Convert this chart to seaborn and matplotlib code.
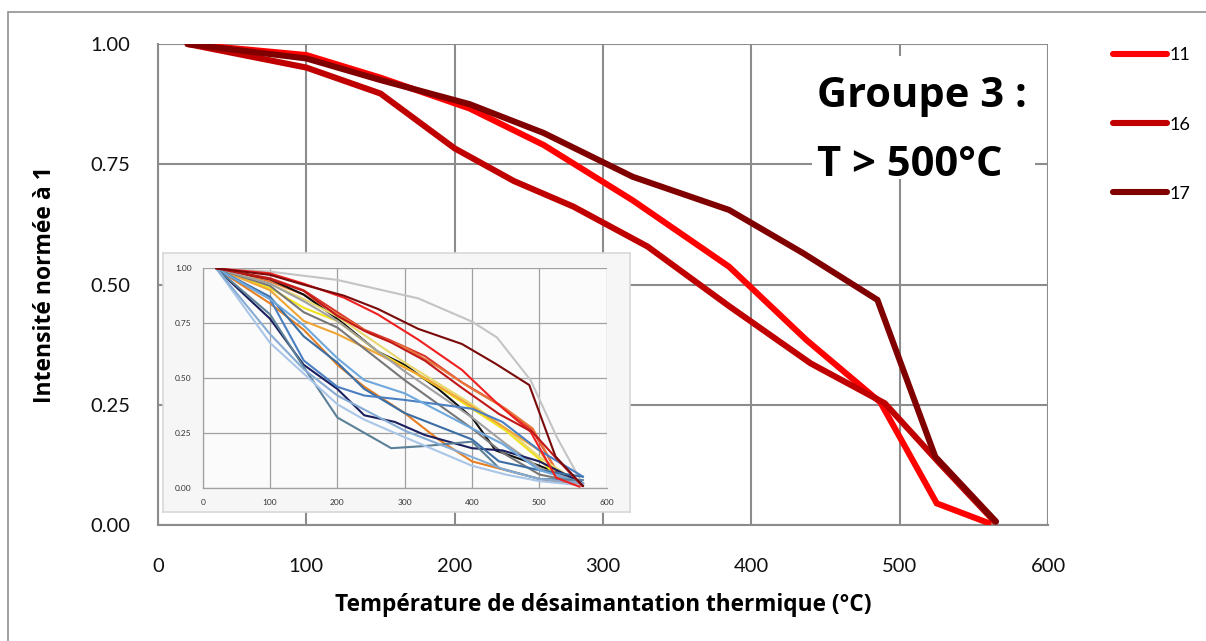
import numpy as np
import pandas as pd
import matplotlib
matplotlib.use("Agg")
import matplotlib.pyplot as plt
import seaborn as sns
from matplotlib.lines import Line2D
from matplotlib.patches import Rectangle

# ---------------- data ----------------
series_names = ["11", "16", "17"]
series_colors = ["#ff0000", "#c00000", "#800000"]

t_11 = [20, 100, 150, 210, 260, 320, 385, 437, 487, 525, 560]
v_11 = [1.0, 0.977, 0.93, 0.866, 0.79, 0.675, 0.537, 0.385, 0.255, 0.045, 0.004]
t_16 = [20, 100, 150, 200, 240, 280, 330, 385, 440, 490, 527, 564]
v_16 = [1.0, 0.951, 0.897, 0.783, 0.715, 0.662, 0.579, 0.455, 0.336, 0.253, 0.128, 0.007]
t_17 = [20, 100, 150, 210, 260, 320, 385, 435, 485, 524, 565]
v_17 = [1.0, 0.970, 0.925, 0.875, 0.815, 0.724, 0.655, 0.565, 0.468, 0.142, 0.007]

x_ticks = [0, 100, 200, 300, 400, 500, 600]
y_ticks = [0.0, 0.25, 0.50, 0.75, 1.00]

# inset (all groups)
inset_names = ["gris", "rouge_b", "orange_r", "noir", "jaune", "jaune_c", "orange_a",
               "orange_b", "gris_f", "gris_m", "marine", "acier", "bleu_p", "bleu_c",
               "ardoise", "bleu_pale", "bleu_m", "11", "16", "17"]
inset_colors = ["#c4c4c4", "#d8362a", "#e8763a", "#111111", "#f2e31a", "#e8d870", "#f0a535",
                "#e67e22", "#777777", "#a0a0a0", "#1b1f5e", "#3b6ea5", "#4a7fc1", "#6fa8dc",
                "#5b8098", "#a9c6e8", "#86acd4", "#ee2020", "#c01818", "#7a0a0a"]
inset_t = [
    [20, 100, 200, 320, 400, 437, 487, 526, 565],
    [20, 100, 150, 200, 240, 280, 330, 385, 440, 490, 525, 565],
    [20, 100, 150, 200, 250, 300, 350, 400, 450, 490, 530, 565],
    [20, 100, 150, 200, 260, 300, 350, 400, 435, 500, 565],
    [20, 100, 150, 200, 260, 300, 350, 400, 450, 500, 530, 565],
    [20, 100, 150, 200, 300, 400, 450, 500, 565],
    [20, 100, 150, 200, 260, 330, 400, 445, 500, 530, 565],
    [20, 100, 150, 200, 240, 300, 350, 400, 450, 500, 565],
    [20, 100, 150, 200, 300, 400, 445, 500, 565],
    [20, 100, 150, 200, 300, 400, 450, 500, 565],
    [20, 100, 150, 200, 240, 285, 330, 400, 445, 500, 565],
    [20, 100, 150, 200, 240, 300, 400, 440, 500, 565],
    [20, 100, 150, 200, 240, 300, 400, 445, 500, 565],
    [20, 100, 150, 200, 240, 300, 400, 445, 500, 565],
    [20, 100, 150, 200, 240, 280, 330, 400, 440, 500, 565],
    [20, 100, 150, 200, 240, 300, 400, 450, 500, 565],
    [20, 100, 150, 200, 300, 400, 450, 500, 565],
    t_11, t_16, t_17,
]
inset_v = [
    [1.0, 0.985, 0.947, 0.863, 0.757, 0.685, 0.49, 0.23, 0.012],
    [1.0, 0.955, 0.90, 0.80, 0.72, 0.67, 0.60, 0.48, 0.38, 0.26, 0.08, 0.01],
    [1.0, 0.94, 0.88, 0.79, 0.70, 0.64, 0.55, 0.45, 0.36, 0.27, 0.05, 0.01],
    [1.0, 0.95, 0.88, 0.77, 0.62, 0.56, 0.45, 0.32, 0.17, 0.10, 0.02],
    [1.0, 0.91, 0.82, 0.76, 0.62, 0.55, 0.46, 0.36, 0.26, 0.13, 0.04, 0.01],
    [1.0, 0.93, 0.86, 0.78, 0.57, 0.38, 0.27, 0.14, 0.01],
    [1.0, 0.90, 0.76, 0.70, 0.61, 0.50, 0.37, 0.28, 0.17, 0.04, 0.01],
    [1.0, 0.84, 0.72, 0.56, 0.46, 0.34, 0.22, 0.12, 0.08, 0.04, 0.01],
    [1.0, 0.92, 0.80, 0.73, 0.49, 0.27, 0.16, 0.06, 0.02],
    [1.0, 0.93, 0.85, 0.76, 0.53, 0.32, 0.20, 0.09, 0.02],
    [1.0, 0.77, 0.56, 0.45, 0.33, 0.30, 0.24, 0.18, 0.17, 0.12, 0.02],
    [1.0, 0.87, 0.69, 0.57, 0.45, 0.34, 0.22, 0.12, 0.08, 0.05],
    [1.0, 0.86, 0.58, 0.46, 0.42, 0.40, 0.36, 0.30, 0.17, 0.05],
    [1.0, 0.86, 0.74, 0.59, 0.49, 0.43, 0.27, 0.20, 0.08, 0.02],
    [1.0, 0.79, 0.55, 0.32, 0.25, 0.18, 0.19, 0.21, 0.09, 0.04, 0.035],
    [1.0, 0.66, 0.52, 0.38, 0.31, 0.23, 0.10, 0.06, 0.03, 0.01],
    [1.0, 0.70, 0.54, 0.42, 0.26, 0.14, 0.08, 0.04, 0.02],
    v_11, v_16, v_17,
]

# ---------------- build frames ----------------
main_df = pd.concat([
    pd.DataFrame({"T": t, "I": v, "ech": n})
    for n, t, v in zip(series_names, [t_11, t_16, t_17], [v_11, v_16, v_17])
], ignore_index=True)
inset_df = pd.concat([
    pd.DataFrame({"T": t, "I": v, "ech": n})
    for n, t, v in zip(inset_names, inset_t, inset_v)
], ignore_index=True)

sns.set_style("white")
plt.rcParams["font.family"] = ["Lato", "DejaVu Sans"]
plt.rcParams["text.color"] = "black"
plt.rcParams["axes.labelcolor"] = "black"
bold_font = ["Open Sans", "DejaVu Sans"]

W, H = 1206, 641
fig = plt.figure(figsize=(W / 100, H / 100), dpi=100)

def fx(px):
    return px / W

def fy(py):
    return 1 - py / H

gridc = "#8c8c8c"

# ---------------- main axes ----------------
ax = fig.add_axes([fx(158), fy(525), fx(1048) - fx(158), fy(44) - fy(525)])
sns.lineplot(data=main_df, x="T", y="I", hue="ech", palette=dict(zip(series_names, series_colors)),
             sort=False, estimator=None, legend=False, linewidth=4.4, ax=ax, zorder=3)
for ln in ax.lines:
    ln.set_solid_capstyle("round")
    ln.set_solid_joinstyle("miter")
ax.set_xlim(0, 600)
ax.set_ylim(0, 1.0)
ax.set_xticks(x_ticks)
ax.set_yticks(y_ticks)
ax.set_xticklabels([str(x) for x in x_ticks])
ax.set_yticklabels([f"{y:.2f}" for y in y_ticks])
ax.grid(True, color=gridc, linewidth=1.5)
ax.set_axisbelow(True)
for s in ["top", "right"]:
    ax.spines[s].set_visible(False)
for s in ["left", "bottom"]:
    ax.spines[s].set_color(gridc)
    ax.spines[s].set_linewidth(1.5)
ax.tick_params(axis="both", direction="out", length=6, width=1.3, color=gridc,
               labelsize=14.5, labelcolor="#111111")
ax.tick_params(axis="x", pad=18)
ax.tick_params(axis="y", pad=14)
ax.set_xlabel("Température de désaimantation thermique (°C)", fontsize=16.3,
              fontweight="bold", family=bold_font, labelpad=13, color="black")
ax.set_ylabel("Intensité normée à 1", fontsize=16.5, fontweight="bold", family=bold_font,
              labelpad=24, color="black")

# text box
ax.add_patch(Rectangle((441, 0.72), 150, 0.255, facecolor="white", edgecolor="none", zorder=2))
ax.text(444, 0.89, "Groupe 3 :", fontsize=30, fontweight="bold", family=bold_font,
        va="center", ha="left", zorder=4, color="black")
ax.text(444, 0.748, "T > 500°C", fontsize=30, fontweight="bold", family=bold_font,
        va="center", ha="left", zorder=4, color="black")

# legend
handles = [Line2D([0], [0], color=c, lw=4.4, solid_capstyle="round") for c in series_colors]
leg = fig.legend(handles, series_names, loc="upper left", bbox_to_anchor=(fx(1097), fy(31)),
                 frameon=False, fontsize=13, handlelength=3.0, handletextpad=0.1,
                 labelspacing=2.95)
for txt in leg.get_texts():
    txt.set_color("black")

# figure border
fig.add_artist(Line2D([fx(8), 1.0], [fy(12), fy(12)], color="#9a9a9a", lw=1.3))
fig.add_artist(Line2D([fx(8), fx(8)], [0, fy(12)], color="#9a9a9a", lw=1.3))

# ---------------- inset ----------------
frame = fig.add_axes([fx(163), fy(512), fx(630) - fx(163), fy(253) - fy(512)])
frame.set_facecolor("#f6f6f6")
frame.set_xticks([])
frame.set_yticks([])
for s in frame.spines.values():
    s.set_color("#d8d8d8")
    s.set_linewidth(1.2)

axi = fig.add_axes([fx(202.7), fy(487.7), fx(606.7) - fx(202.7), fy(268.3) - fy(487.7)])
axi.set_facecolor("#fbfbfb")
sns.lineplot(data=inset_df, x="T", y="I", hue="ech", palette=dict(zip(inset_names, inset_colors)),
             sort=False, estimator=None, legend=False, linewidth=1.5, ax=axi)
axi.set_xlim(0, 600)
axi.set_ylim(0, 1.0)
axi.set_xticks(x_ticks)
axi.set_yticks(y_ticks)
axi.set_xticklabels([str(x) for x in x_ticks])
axi.set_yticklabels([f"{y:.2f}" for y in y_ticks])
axi.grid(True, color="#a0a0a0", linewidth=0.9)
axi.set_axisbelow(True)
for s in ["top", "right"]:
    axi.spines[s].set_visible(False)
for s in ["left", "bottom"]:
    axi.spines[s].set_color("#a0a0a0")
    axi.spines[s].set_linewidth(0.9)
axi.tick_params(axis="both", direction="out", length=3, width=0.8, color="#a0a0a0",
                labelsize=6, labelcolor="#333333", pad=5)
axi.set_xlabel("")
axi.set_ylabel("")

fig.savefig("out.png", dpi=100)
